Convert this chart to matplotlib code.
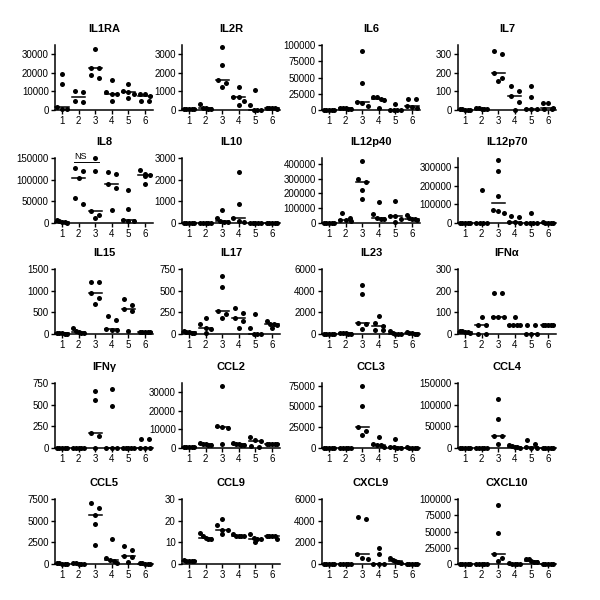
import numpy as np
import matplotlib
matplotlib.use('Agg')
import matplotlib.pyplot as plt

plt.rcParams['font.family'] = ['Liberation Sans', 'DejaVu Sans']

# values per group (1..6)
il1ra = [[19500, 13800, 1800, 700, 400], [10000, 9600, 4900, 4500],
         [33000, 22500, 22500, 19000, 17300], [15900, 9600, 8700, 8600, 5100],
         [14100, 10000, 9600, 8500, 6300], [8700, 8500, 7800, 5100, 4800]]
il2r = [[80, 60, 50, 40, 30], [320, 100, 90, 50, 30], [3400, 2430, 1640, 1450, 1250],
        [1250, 700, 680, 500, 280], [1070, 290, 20, 10, 0], [120, 110, 100, 90, 80]]
il6 = [[300, 200, 150, 100, 50], [3500, 3000, 2500, 2000, 1500], [91000, 42000, 12000, 11000, 6000],
       [20500, 20500, 16300, 15300, 2500], [10000, 500, 400, 300, 200], [16800, 16800, 6000, 4000, 3000]]
il7 = [[5, 3, 2, 0, 0], [12, 10, 8, 6, 5], [318, 300, 200, 175, 154],
       [127, 104, 73, 41, 0], [127, 72, 7, 5, 5], [40, 40, 10, 5, 5]]
il8 = [[6000, 4000, 3000, 2000, 1000], [127000, 119000, 104000, 57000, 44000],
       [150000, 121000, 27000, 18000, 12000], [118000, 114000, 91000, 80000, 30000],
       [77000, 33000, 7000, 5000, 4000], [123000, 114000, 110000, 108000, 91000]]
il10 = [[10, 8, 5, 3, 0], [10, 8, 5, 3, 0], [580, 230, 100, 40, 40],
        [2370, 855, 240, 80, 40], [10, 8, 5, 3, 0], [10, 8, 5, 3, 0]]
il12p40 = [[1500, 1000, 800, 500, 300], [67000, 37000, 20000, 18000, 15000],
           [423000, 301000, 276000, 225000, 163000], [140000, 62000, 35000, 30000, 28000],
           [152000, 48000, 46000, 25000, 5000], [55000, 32000, 28000, 25000, 18000]]
il12p70 = [[500, 300, 200, 100, 0], [177000, 500, 300, 100, 0],
           [341000, 282000, 146000, 70000, 67000, 52000], [39000, 30000, 5000, 3000, 1000],
           [53000, 500, 300, 100, 0], [3000, 2000, 2000, 1000, 1000]]
il15 = [[25, 20, 15, 10, 5], [130, 70, 40, 30, 15], [1200, 1200, 950, 820, 700],
        [420, 320, 107, 100, 90], [800, 680, 570, 530, 80], [50, 45, 40, 40, 35]]
il17 = [[30, 25, 20, 15, 10], [190, 118, 68, 60, 8], [670, 540, 270, 236, 190],
        [300, 240, 190, 152, 68], [228, 65, 5, 5, 0], [150, 120, 110, 105, 65]]
il23 = [[30, 20, 10, 5, 0], [80, 60, 50, 40, 20], [4480, 3710, 1060, 910, 450],
        [1640, 1060, 730, 400, 370], [270, 100, 30, 20, 10], [210, 80, 50, 40, 30]]
ifna = [[15, 12, 10, 8, 5], [80, 40, 40, 0, 0], [190, 190, 80, 80, 80],
        [80, 40, 40, 40, 40], [40, 40, 0, 0, 0], [40, 40, 40, 40, 40]]
ifng = [[0, 0, 0, 0, 0], [0, 0, 0, 0, 0], [655, 555, 170, 140, 0],
        [685, 480, 0, 0, 0], [0, 0, 0, 0, 0], [100, 100, 0, 0, 0]]
ccl2 = [[800, 600, 500, 400, 300], [2500, 2200, 2000, 1800, 1500], [33200, 11800, 11500, 10600, 2300],
        [2800, 2300, 2100, 1800, 1500], [5700, 4100, 3900, 1200, 800], [2300, 2100, 2000, 2000, 1900]]
ccl3 = [[300, 200, 100, 50, 0], [300, 200, 100, 50, 0], [75000, 50000, 25000, 21000, 15500],
        [12800, 5000, 4000, 3500, 1500], [11200, 1600, 800, 200, 0], [800, 600, 500, 300, 200]]
ccl4 = [[500, 300, 200, 100, 0], [500, 300, 200, 100, 0], [114000, 67000, 27000, 27000, 9000],
        [6000, 4000, 3000, 2000, 1000], [17700, 9200, 1500, 500, 0], [500, 300, 200, 100, 0]]
ccl5 = [[80, 60, 50, 40, 20], [80, 60, 50, 40, 20], [7000, 6430, 5600, 4640, 2170],
        [2850, 650, 420, 380, 150], [2090, 1640, 950, 840, 230], [80, 60, 50, 40, 20]]
ccl9 = [[1.7, 1.5, 1.5, 1.4, 1.3], [14.3, 13, 11.8, 11.7, 11.6], [21, 18.1, 15.7, 15.5, 14],
        [13.7, 13.1, 13, 12.9, 12.8], [14, 11.8, 11.7, 11.4, 10.3], [13.1, 13, 12.9, 12.8, 11.7]]
cxcl9 = [[30, 20, 10, 5, 0], [30, 20, 10, 5, 0], [4330, 4110, 900, 600, 430],
         [1490, 880, 0, 0, 0], [520, 370, 270, 180, 120], [30, 20, 10, 5, 0]]
cxcl10 = [[500, 300, 200, 100, 0], [500, 300, 200, 100, 0], [91000, 48000, 16000, 8600, 5000],
          [800, 500, 300, 200, 0], [8000, 7000, 4500, 3500, 2500], [500, 300, 200, 100, 0]]

titles = ['IL1RA', 'IL2R', 'IL6', 'IL7', 'IL8', 'IL10', 'IL12p40', 'IL12p70',
          'IL15', 'IL17', 'IL23', 'IFN\u03b1', 'IFN\u03b3', 'CCL2', 'CCL3', 'CCL4',
          'CCL5', 'CCL9', 'CXCL9', 'CXCL10']
panels = [il1ra, il2r, il6, il7, il8, il10, il12p40, il12p70, il15, il17, il23, ifna,
          ifng, ccl2, ccl3, ccl4, ccl5, ccl9, cxcl9, cxcl10]
tick_step = [10000, 1000, 25000, 100, 50000, 1000, 100000, 100000, 500, 250, 2000, 100,
             250, 10000, 25000, 50000, 2500, 10, 2000, 25000]
tick_max = [30000, 3000, 100000, 300, 150000, 3000, 400000, 300000, 1500, 750, 6000, 300,
            750, 30000, 75000, 150000, 7500, 30, 6000, 100000]
y_top = [35000, 3500, 100000, 350, 150000, 3000, 440000, 350000, 1500, 750, 6000, 300,
         750, 35000, 78000, 150000, 7500, 30, 6000, 100000]
groups = [1, 2, 3, 4, 5, 6]

col_left = [55, 182, 322, 458]
row_base = [110, 223, 334, 448, 564]
W, H = 98, 65


def spread(vals, top, min_px=6):
    # horizontal offsets so that dots with close values sit side by side
    vals = np.asarray(vals, float)
    order = np.argsort(-vals)
    pix = vals / top * H
    offs = np.zeros(len(vals))
    clusters, cur = [], [order[0]]
    for i in order[1:]:
        if pix[cur[0]] - pix[i] < min_px:
            cur.append(i)
        else:
            clusters.append(cur)
            cur = [i]
    clusters.append(cur)
    for c in clusters:
        k = len(c)
        if k == 1:
            continue
        half = min(0.24 * (k - 1), 0.32)
        for j, idx in enumerate(c):
            offs[idx] = -half + 2 * half * j / (k - 1)
    return offs


fig = plt.figure(figsize=(6, 6), dpi=100)

for n, data in enumerate(panels):
    r, c = divmod(n, 4)
    ax = fig.add_axes([col_left[c] / 600, 1 - row_base[r] / 600, W / 600, H / 600])
    for g, vals in zip(groups, data):
        offs = spread(vals, y_top[n])
        ax.scatter(g + offs, vals, s=13, color='black', zorder=3, clip_on=False, linewidths=0)
        med = np.median(vals)
        ax.plot([g - 0.4, g + 0.4], [med, med], color='black', lw=1.1, zorder=2, clip_on=False)
    ax.set_xlim(0.58, 6.48)
    ax.set_ylim(0, y_top[n])
    ax.set_xticks(groups)
    ax.set_yticks(np.arange(0, tick_max[n] + 1e-9, tick_step[n]))
    ax.yaxis.set_major_formatter(matplotlib.ticker.FuncFormatter(lambda v, p: f'{v:.0f}'))
    for s in ['top', 'right']:
        ax.spines[s].set_visible(False)
    for s in ['left', 'bottom']:
        ax.spines[s].set_linewidth(1.1)
    ax.tick_params(direction='out', length=3, width=1, labelsize=7, pad=1.5)
    ax.set_title(titles[n], fontsize=8, fontweight='bold', pad=9)
    if titles[n] == 'IL8':
        ax.plot([1.7, 3.25], [141000, 141000], color='black', lw=0.7, clip_on=False)
        ax.text(1.72, 143000, 'NS', fontsize=6.5, va='bottom', ha='left', clip_on=False)

fig.savefig('out.png', dpi=100)
